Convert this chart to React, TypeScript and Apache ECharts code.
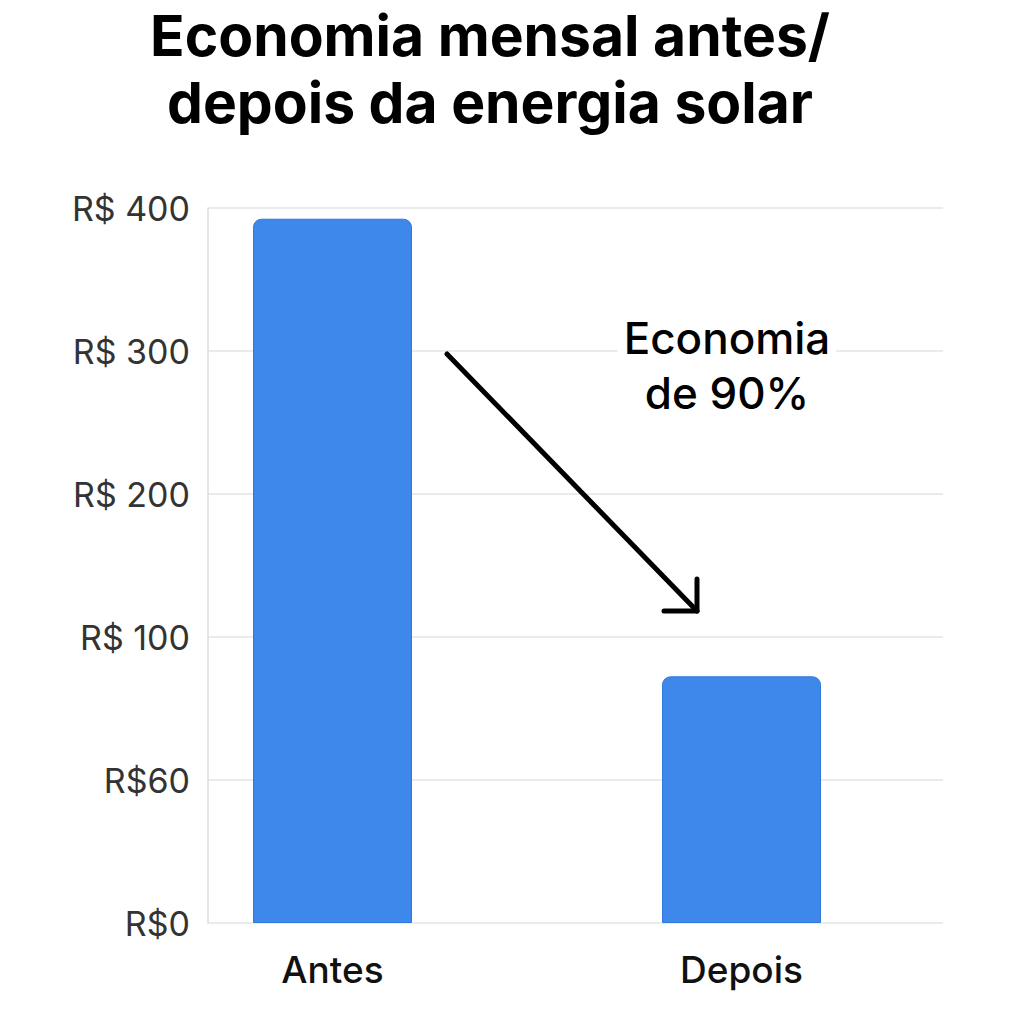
import { useEffect, useRef } from 'react';
import * as echarts from 'echarts';

// categories and bar heights (in axis position units, 80 per tick)
const categories = ['Antes', 'Depois'];
const values = [394, 138];
// tick labels exactly as printed on the reference, bottom to top
const tickLabels = ['R$0', 'R$60', 'R$ 100', 'R$ 200', 'R$ 300', 'R$ 400'];
const TICK_STEP = 80;
const titleLines = ['Economia mensal antes/', 'depois da energia solar'];

const FONT = 'Inter, "Noto Sans", sans-serif';

export default function App() {
  const ref = useRef<HTMLDivElement | null>(null);

  useEffect(() => {
    if (!ref.current) return;
    const chart = echarts.init(ref.current, undefined, { renderer: 'svg' });

    chart.setOption({
      animation: false,
      backgroundColor: '#ffffff',
      grid: [
        // grid lines + y labels
        { left: 208, right: 81, top: 208, bottom: 101 },
        // bars
        { left: 128, right: 78, top: 208, bottom: 101 },
      ],
      xAxis: [
        { gridIndex: 0, type: 'value', min: 0, max: 1, show: false },
        {
          gridIndex: 1,
          type: 'category',
          data: categories,
          axisLine: { show: false },
          axisTick: { show: false },
          axisLabel: {
            margin: 28,
            color: '#111',
            fontSize: 37,
            fontWeight: 500,
            fontFamily: FONT,
          },
        },
      ],
      yAxis: [
        {
          gridIndex: 0,
          type: 'value',
          min: 0,
          max: TICK_STEP * (tickLabels.length - 1),
          interval: TICK_STEP,
          axisLine: { show: true, lineStyle: { color: '#dcdcdc', width: 1.5 } },
          axisTick: { show: false },
          splitLine: { lineStyle: { color: '#e4e4e4', width: 1.5 } },
          axisLabel: {
            margin: 18,
            color: '#333',
            fontSize: 34,
            fontFamily: FONT,
            formatter: (v: number) => tickLabels[Math.round(v / TICK_STEP)] ?? '',
          },
        },
        {
          gridIndex: 1,
          type: 'value',
          min: 0,
          max: TICK_STEP * (tickLabels.length - 1),
          show: false,
          splitLine: { show: false },
        },
      ],
      series: [
        {
          type: 'bar',
          xAxisIndex: 1,
          yAxisIndex: 1,
          data: values,
          barWidth: 159,
          itemStyle: {
            color: '#3D88EA',
            borderColor: '#2F78DC',
            borderWidth: 1,
            borderRadius: [8, 8, 0, 0],
          },
        },
      ],
      graphic: [
        // title, one text per line
        ...titleLines.map((line, i) => ({
          type: 'text',
          z: 100,
          x: 490,
          y: 35 + i * 67,
          style: {
            text: line,
            align: 'center',
            verticalAlign: 'middle',
            fontFamily: FONT,
            fontSize: 57,
            fontWeight: 700,
            fill: '#000',
          },
        })),
        {
          type: 'line',
          z: 100,
          shape: { x1: 447, y1: 354, x2: 697, y2: 611 },
          style: { stroke: '#000', lineWidth: 5, lineCap: 'round' },
        },
        {
          type: 'polyline',
          z: 100,
          shape: { points: [[664, 611], [697, 611], [697, 579]] },
          style: { stroke: '#000', lineWidth: 5, lineCap: 'round', lineJoin: 'round', fill: null },
        },
        {
          type: 'text',
          z: 100,
          x: 727,
          y: 310,
          style: {
            text: 'Economia\nde 90%',
            align: 'center',
            fontFamily: FONT,
            fontSize: 44,
            fontWeight: 500,
            lineHeight: 55,
            fill: '#000',
            backgroundColor: '#fff',
            padding: [0, 6],
          },
        },
      ],
    });

    return () => {
      chart.dispose();
    };
  }, []);

  return (
    <div
      ref={ref}
      style={{ position: 'fixed', left: 0, top: 0, width: 1024, height: 1024 }}
    />
  );
}
